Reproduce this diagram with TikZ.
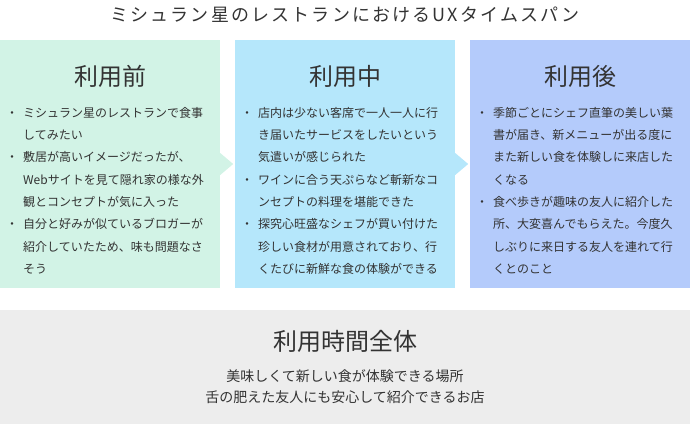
\documentclass[tikz,border=0pt]{standalone}
\usepackage{fontspec}
\usetikzlibrary{calc}
\setmainfont{Noto Sans CJK JP}
\definecolor{txt}{HTML}{333333}
\definecolor{cA}{HTML}{D2F3E6}
\definecolor{cB}{HTML}{B5E7FB}
\definecolor{cC}{HTML}{B4CBFB}
\definecolor{cG}{HTML}{EDEDED}
\newcommand{\bul}{\makebox[17pt][l]{・}}
\newcommand{\ind}{\hspace*{17pt}}
\tikzset{
  phase/.style={inner sep=0pt, minimum width=220pt, minimum height=248pt, fill=#1},
  head/.style={text=txt, font=\fontsize{24pt}{28pt}\selectfont, inner sep=0pt},
  items/.style={text=txt, font=\fontsize{12pt}{22.3pt}\selectfont, align=left, anchor=north west, inner sep=0pt},
}
\begin{document}
\begin{tikzpicture}[x=1pt,y=-1pt]
\useasboundingbox (0,0) rectangle (690,424);
\node[text=txt, font=\fontsize{18pt}{22pt}\selectfont\addfontfeature{LetterSpace=12}, inner sep=0pt] (title) at (345,15) {ミシュラン星のレストランにおけるUXタイムスパン};
% phase boxes
\node[phase=cA] (b1) at (110,164) {};
\node[phase=cB] (b2) at (345,164) {};
\node[phase=cC] (b3) at (580,164) {};
\fill[cA] ($(b1.east)+(0,-11)$) -- ($(b1.east)+(13,0)$) -- ($(b1.east)+(0,11)$) -- cycle;
\fill[cB] ($(b2.east)+(0,-11)$) -- ($(b2.east)+(13,0)$) -- ($(b2.east)+(0,11)$) -- cycle;
% headers
\node[head] (h1) at (110,76) {利用前};
\node[head] (h2) at (345,76) {利用中};
\node[head] (h3) at (580,76) {利用後};
% items
\node[items] (l1) at (6,107) {\bul ミシュラン星のレストランで食事\\
\ind してみたい\\
\bul 敷居が高いイメージだったが、\\
\ind Webサイトを見て隠れ家の様な外\\
\ind 観とコンセプトが気に入った\\
\bul 自分と好みが似ているブロガーが\\
\ind 紹介していたため、味も問題なさ\\
\ind そう};
\node[items] (l2) at (241,107) {\bul 店内は少ない客席で一人一人に行\\
\ind き届いたサービスをしたいという\\
\ind 気遣いが感じられた\\
\bul ワインに合う天ぷらなど斬新なコ\\
\ind ンセプトの料理を堪能できた\\
\bul 探究心旺盛なシェフが買い付けた\\
\ind 珍しい食材が用意されており、行\\
\ind くたびに新鮮な食の体験ができる};
\node[items] (l3) at (476,107) {\bul 季節ごとにシェフ直筆の美しい葉\\
\ind 書が届き、新メニューが出る度に\\
\ind また新しい食を体験しに来店した\\
\ind くなる\\
\bul 食べ歩きが趣味の友人に紹介した\\
\ind 所、大変喜んでもらえた。今度久\\
\ind しぶりに来日する友人を連れて行\\
\ind くとのこと};
% whole span
\node[fill=cG, inner sep=0pt, minimum width=690pt, minimum height=114pt] (all) at (345,367) {};
\node[head] (h4) at (345,341) {利用時間全体};
\node[text=txt, font=\fontsize{14pt}{21pt}\selectfont, align=center, inner sep=0pt] (sum) at (345,387) {美味しくて新しい食が体験できる場所\\舌の肥えた友人にも安心して紹介できるお店};
\end{tikzpicture}
\end{document}
